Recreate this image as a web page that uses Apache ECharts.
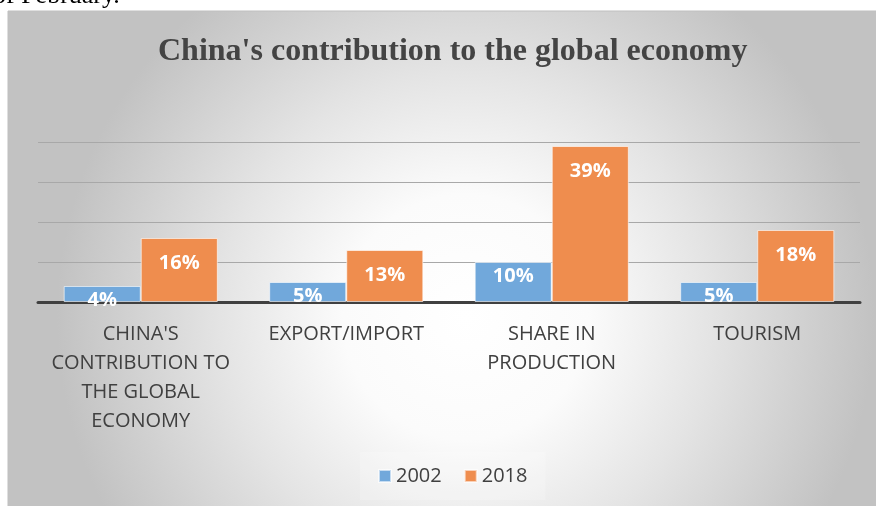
<!DOCTYPE html>
<html>
<head>
<meta charset="utf-8">
<script src="https://cdn.jsdelivr.net/npm/echarts@6/dist/echarts.min.js"></script>
<style>
html,body{margin:0;padding:0;background:#fff;}
#chart{width:876px;height:506px;}
</style>
</head>
<body>
<div id="chart"></div>
<script>
const categories = ["CHINA'S CONTRIBUTION TO THE GLOBAL ECONOMY", "EXPORT/IMPORT", "SHARE IN PRODUCTION", "TOURISM"];
const tickLabels = ["CHINA'S\nCONTRIBUTION TO\nTHE GLOBAL\nECONOMY", "EXPORT/IMPORT", "SHARE IN\nPRODUCTION", "TOURISM"];
const seriesNames = ["2002", "2018"];
const values2002 = [4, 5, 10, 5];
const values2018 = [16, 13, 39, 18];
const yTicks = [0, 10, 20, 30, 40];

const chart = echarts.init(document.getElementById('chart'));
const labelFont = {color:'#ffffff', fontWeight:'bold', fontSize:20, fontFamily:'Open Sans'};
chart.setOption({
  backgroundColor:'#ffffff',
  animation:false,
  graphic:[
    {type:'rect', z:-10, shape:{x:8, y:11, width:880, height:510},
     style:{fill:{type:'radial', x:0.52, y:0.6, r:0.8,
       colorStops:[{offset:0,color:'#ffffff'},{offset:0.3,color:'#fbfbfb'},{offset:0.6,color:'#e4e4e4'},{offset:1,color:'#c2c2c2'}]},
       stroke:'#bfbfbf', lineWidth:1}},
    {type:'text', z:10, left:-7, top:-17,
     style:{text:'of February.', font:'26px "Liberation Serif"', fill:'#000'}}
  ],
  title:{
    text:"China's contribution to the global economy",
    left:153, top:31,
    textStyle:{fontFamily:'Liberation Serif', fontWeight:'bold', fontSize:32, color:'#444444'}
  },
  legend:{
    data:seriesNames, bottom:6, left:360,
    itemWidth:12, itemHeight:12, itemGap:22,
    icon:'rect',
    padding:[14,18],
    backgroundColor:'rgba(255,255,255,0.2)',
    textStyle:{fontSize:20, color:'#404040', fontFamily:'Open Sans'}
  },
  grid:{left:38, right:16, top:142, bottom:204, containLabel:false},
  xAxis:{
    type:'category', data:categories,
    axisLine:{lineStyle:{color:'#404040', width:3}},
    axisTick:{show:false},
    axisLabel:{
      interval:0, margin:18, lineHeight:29,
      fontSize:20, color:'#404040', fontFamily:'Open Sans',
      formatter:function(v, i){ return tickLabels[i]; }
    }
  },
  yAxis:{
    type:'value', min:yTicks[0], max:yTicks[yTicks.length-1], interval:10,
    axisLabel:{show:false}, axisLine:{show:false}, axisTick:{show:false},
    splitLine:{lineStyle:{color:'#a8a8a8', width:1.2}}
  },
  series:[
    {name:seriesNames[0], type:'bar', data:values2002, barGap:'0%', barCategoryGap:'25%',
     itemStyle:{color:'#71a8db', borderColor:'rgba(255,255,255,0.6)', borderWidth:1},
     label:{show:true, position:'insideTop', distance:4, formatter:'{c}%', ...labelFont}},
    {name:seriesNames[1], type:'bar', data:values2018,
     itemStyle:{color:'#ef8d4e', borderColor:'rgba(255,255,255,0.6)', borderWidth:1},
     label:{show:true, position:'insideTop', distance:15, formatter:'{c}%', ...labelFont}}
  ]
});
</script>
</body>
</html>
